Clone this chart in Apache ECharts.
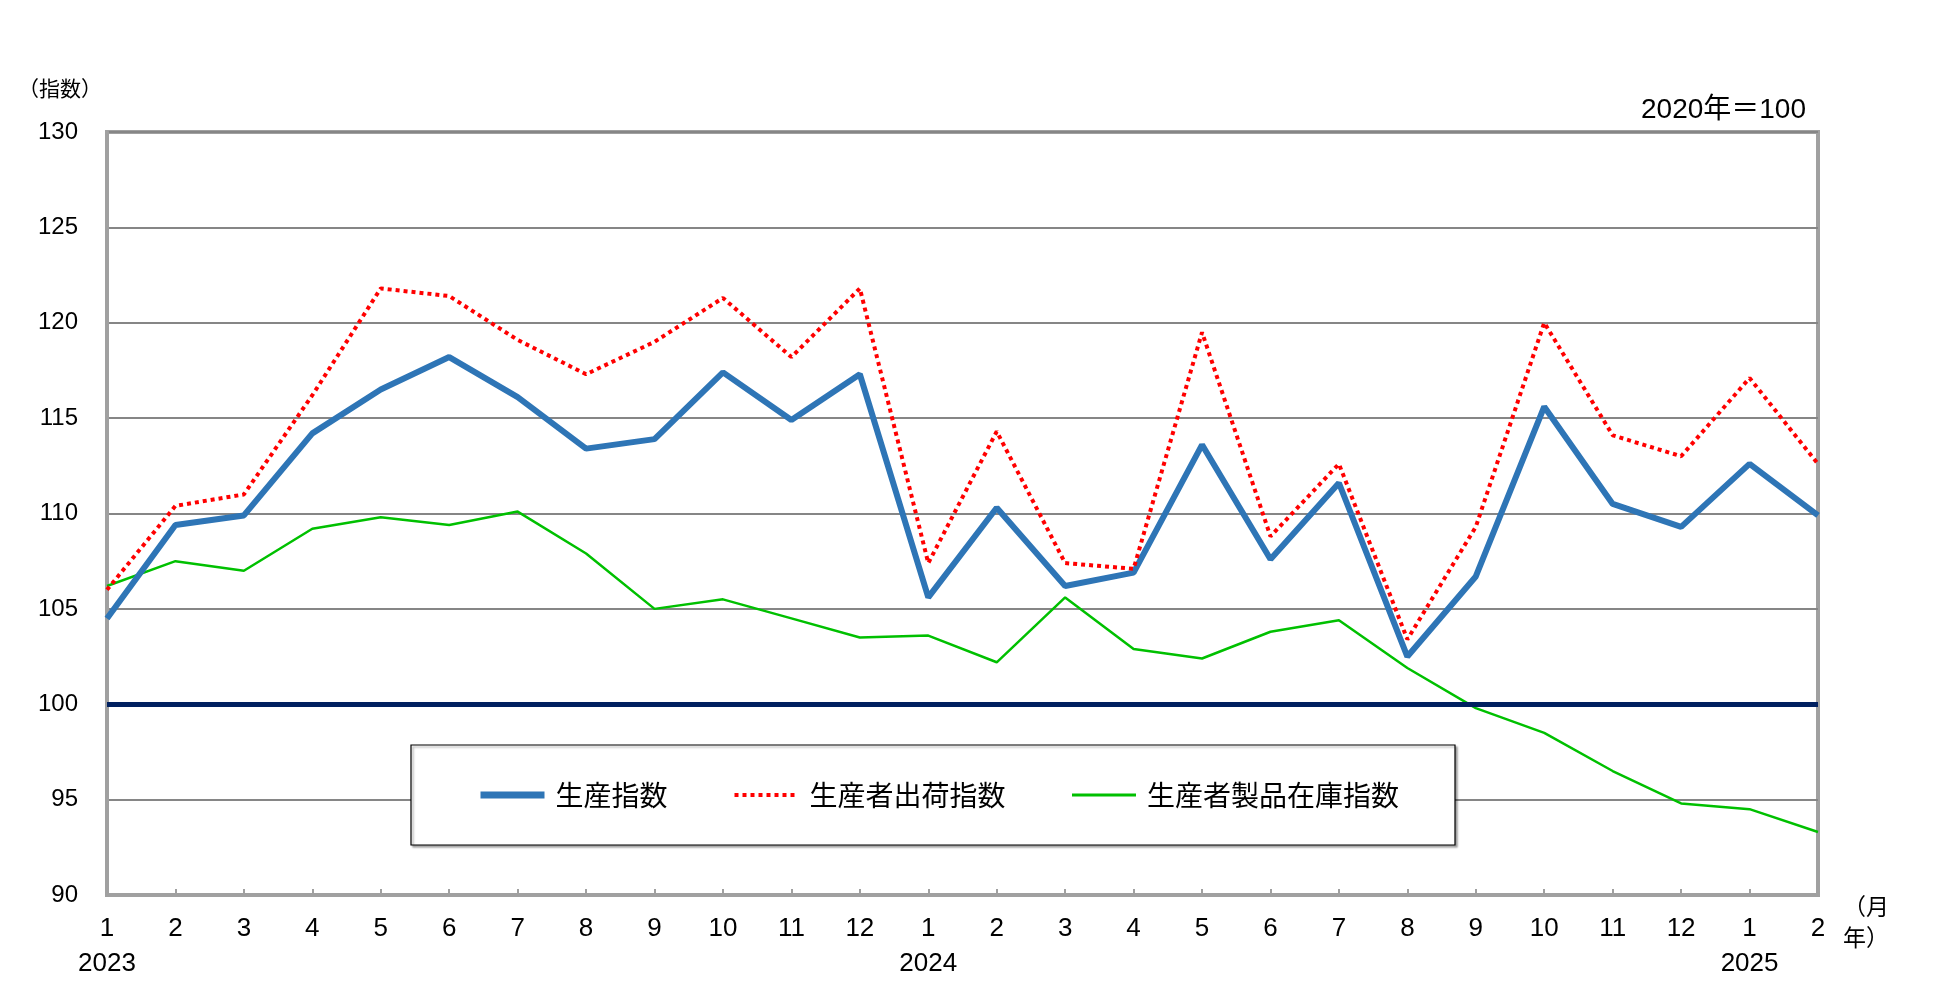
<!DOCTYPE html>
<html>
<head>
<meta charset="utf-8">
<script src="https://cdn.jsdelivr.net/npm/echarts@6/dist/echarts.min.js"></script>
<style>
  html, body { margin: 0; padding: 0; background: #fff; }
  #main { width: 1960px; height: 1000px; }
</style>
</head>
<body>
<div id="main"></div>
<script>
// months on the x axis, with the year shown under the first month of each year
const months = ['1','2','3','4','5','6','7','8','9','10','11','12',
                '1','2','3','4','5','6','7','8','9','10','11','12',
                '1','2'];
const yearLabels = ['2023','','','','','','','','','','','',
                    '2024','','','','','','','','','','','',
                    '2025',''];

const seriesNames = ['生産指数', '生産者出荷指数', '生産者製品在庫指数'];

// 生産指数
const production = [104.5,109.4,109.9,114.2,116.5,118.2,116.1,113.4,113.9,117.4,114.9,117.3,
                    105.6,110.3,106.2,106.9,113.6,107.6,111.6,102.5,106.7,115.6,110.5,109.3,
                    112.6,109.9];
// 生産者出荷指数
const shipments = [106.0,110.4,111.0,116.2,121.8,121.4,119.1,117.3,119.0,121.3,118.2,121.8,
                   107.4,114.3,107.4,107.1,119.5,108.8,112.6,103.4,109.3,120.0,114.1,113.0,
                   117.1,112.6];
// 生産者製品在庫指数
const inventory = [106.2,107.5,107.0,109.2,109.8,109.4,110.1,107.9,105.0,105.5,104.5,103.5,
                   103.6,102.2,105.6,102.9,102.4,103.8,104.4,101.9,99.8,98.5,96.5,94.8,
                   94.5,93.3];

const baseValue = 100;
const yTicks = { min: 90, max: 130, step: 5 };

const latin = "'Liberation Sans', 'Noto Sans CJK JP', sans-serif";
const cjk = "'Noto Sans CJK JP', 'Liberation Sans', sans-serif";

const chart = echarts.init(document.getElementById('main'));

chart.setOption({
  animation: false,
  backgroundColor: '#ffffff',
  grid: {
    left: 107, right: 142, top: 132, bottom: 105,
    show: true, borderColor: '#a0a0a0', borderWidth: 4,
    backgroundColor: 'transparent'
  },
  legend: {
    data: [
      { name: seriesNames[0], lineStyle: { width: 7 } },
      { name: seriesNames[1], lineStyle: { width: 4, type: [4, 4] } },
      { name: seriesNames[2], lineStyle: { width: 3 } }
    ],
    left: 477, top: 781,
    z: 10,
    padding: 0,
    itemWidth: 64, itemHeight: 14,
    itemGap: 65,
    itemStyle: { opacity: 0 },
    textStyle: { fontFamily: cjk, fontSize: 28, color: '#000', padding: [0, 0, 0, 6] }
  },
  xAxis: {
    type: 'category',
    data: months,
    boundaryGap: false,
    axisLine: { lineStyle: { color: '#a0a0a0', width: 4 } },
    axisTick: { show: true, inside: true, length: 6, alignWithLabel: true,
                lineStyle: { color: '#a0a0a0', width: 2 } },
    splitLine: { show: false },
    axisLabel: {
      margin: 16,
      interval: 0,
      formatter: function (v, i) {
        return '{m|' + v + '}\n{y|' + (yearLabels[i] || ' ') + '}';
      },
      rich: {
        m: { fontFamily: latin, fontSize: 26, color: '#000', lineHeight: 35 },
        y: { fontFamily: latin, fontSize: 26, color: '#000', lineHeight: 35 }
      }
    }
  },
  yAxis: {
    type: 'value',
    min: yTicks.min, max: yTicks.max, interval: yTicks.step,
    axisLine: { show: true, lineStyle: { color: '#a0a0a0', width: 4 } },
    axisTick: { show: false },
    splitLine: { lineStyle: { color: '#868686', width: 2 } },
    axisLabel: { margin: 29, fontFamily: latin, fontSize: 24, color: '#000' }
  },
  graphic: [
    { type: 'rect', z: 2, shape: { x: 411, y: 745, width: 1044, height: 100 },
      style: { fill: '#fff', stroke: '#000', lineWidth: 1.2,
               shadowColor: 'rgba(0,0,0,0.35)', shadowOffsetX: 2, shadowOffsetY: 2, shadowBlur: 2 } },
    { type: 'text', z: 6, x: 60, y: 88,
      style: { text: '（指数）', font: '21px ' + cjk, fill: '#000', align: 'center', verticalAlign: 'middle' } },
    { type: 'text', z: 6, x: 1806, y: 110,
      style: { text: '2020年＝100', font: '28px ' + latin, fill: '#000', align: 'right', verticalAlign: 'middle' } },
    { type: 'text', z: 6, x: 1866, y: 906,
      style: { text: '（月', font: '23px ' + cjk, fill: '#000', align: 'center', verticalAlign: 'middle' } },
    { type: 'text', z: 6, x: 1866, y: 937,
      style: { text: '年）', font: '23px ' + cjk, fill: '#000', align: 'center', verticalAlign: 'middle' } }
  ],
  series: [
    {
      name: seriesNames[0], type: 'line', data: production,
      symbol: 'none', z: 3,
      lineStyle: { color: '#2e75b6', width: 6 },
      itemStyle: { color: '#2e75b6' }
    },
    {
      name: seriesNames[1], type: 'line', data: shipments,
      symbol: 'none', z: 4,
      lineStyle: { color: '#ff0000', width: 4, type: [4, 4] },
      itemStyle: { color: '#ff0000' }
    },
    {
      name: seriesNames[2], type: 'line', data: inventory,
      symbol: 'none', z: 2,
      lineStyle: { color: '#00c000', width: 2.5 },
      itemStyle: { color: '#00c000' },
      markLine: {
        silent: true, symbol: ['none', 'none'], label: { show: false },
        lineStyle: { color: '#002060', width: 5, type: 'solid' },
        data: [{ yAxis: baseValue }]
      }
    }
  ]
});
</script>
</body>
</html>
